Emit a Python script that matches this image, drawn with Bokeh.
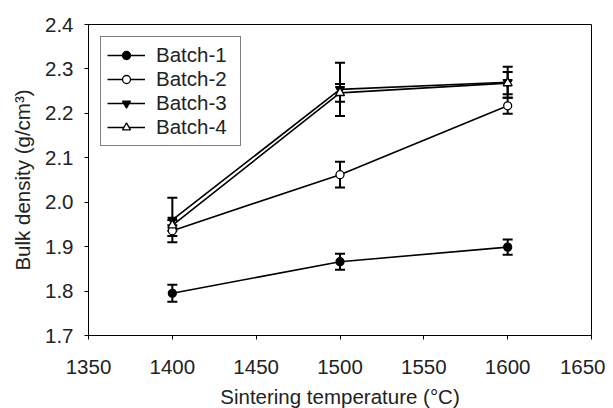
from bokeh.plotting import figure
from bokeh.models import ColumnDataSource, Whisker, FixedTicker, Legend, LegendItem, Range1d, CustomJSTickFormatter
from bokeh.embed import file_html
from bokeh.resources import INLINE

temps = [1400, 1500, 1600]
batch1 = [1.795, 1.866, 1.899]
batch1_err = [0.019, 0.018, 0.017]
batch2 = [1.936, 2.062, 2.217]
batch2_err = [0.012, 0.029, 0.018]
batch3 = [1.960, 2.254, 2.270]
batch3_err = [0.050, 0.060, 0.035]
batch4 = [1.948, 2.246, 2.268]
batch4_err = [0.012, 0.020, 0.025]
x_ticks = [1350, 1400, 1450, 1500, 1550, 1600, 1650]
y_ticks = [1.7, 1.8, 1.9, 2.0, 2.1, 2.2, 2.3, 2.4]

FONT = "Liberation Sans"

p = figure(width=605, height=415, output_backend="svg", toolbar_location=None,
           x_range=Range1d(1350, 1650), y_range=Range1d(1.7, 2.4),
           min_border_left=88, min_border_right=14, min_border_top=24, min_border_bottom=80)
p.grid.visible = False
p.outline_line_color = "black"
p.outline_line_width = 1
p.background_fill_color = "white"
p.border_fill_color = "white"

for ax in (p.xaxis[0], p.yaxis[0]):
    ax.major_tick_in = 0
    ax.major_tick_out = 4
    ax.minor_tick_line_color = None
    ax.axis_line_color = "black"
    ax.major_tick_line_color = "black"
    ax.major_label_text_font = FONT
    ax.major_label_text_font_size = "20.5px"
    ax.major_label_text_color = "#222222"
    ax.axis_label_text_font = FONT
    ax.axis_label_text_font_size = "20.5px"
    ax.axis_label_text_font_style = "normal"
    ax.axis_label_text_color = "#222222"

p.xaxis.ticker = FixedTicker(ticks=x_ticks)
p.yaxis.ticker = FixedTicker(ticks=y_ticks)
p.yaxis.formatter = CustomJSTickFormatter(code="return tick.toFixed(1);")
p.xaxis.axis_label = "Sintering temperature (°C)"
p.yaxis.axis_label = "Bulk density (g/cm³)"
p.xaxis.major_label_standoff = 20
p.yaxis.major_label_standoff = 11
p.xaxis.axis_label_standoff = 8
p.yaxis.axis_label_standoff = 8

series = [
    ("Batch-1", batch1, batch1_err, "circle", "black"),
    ("Batch-2", batch2, batch2_err, "circle", "white"),
    ("Batch-3", batch3, batch3_err, "inverted_triangle", "black"),
    ("Batch-4", batch4, batch4_err, "triangle", "white"),
]

items = []
for name, vals, errs, marker, fill in series:
    src = ColumnDataSource(dict(x=temps, y=vals,
                                lo=[v - e for v, e in zip(vals, errs)],
                                hi=[v + e for v, e in zip(vals, errs)]))
    w = Whisker(source=src, base="x", lower="lo", upper="hi",
                line_color="black", line_width=2)
    w.upper_head.size = 10
    w.lower_head.size = 10
    w.upper_head.line_width = 2
    w.lower_head.line_width = 2
    p.add_layout(w)
    l = p.line("x", "y", source=src, line_color="black", line_width=1.6)
    s = p.scatter("x", "y", source=src, marker=marker, size=8 if marker == "circle" else 9,
                  fill_color=fill, line_color="black", line_width=1.3)
    items.append(LegendItem(label=name, renderers=[l, s]))

legend = Legend(items=items, location="top_left")
legend.margin = 12
legend.padding = 6
legend.spacing = 0
legend.glyph_width = 38
legend.glyph_height = 20
legend.label_standoff = 11
legend.label_width = 78
legend.label_text_font = FONT
legend.label_text_font_size = "20.5px"
legend.label_text_color = "#222222"
legend.border_line_color = "black"
legend.border_line_width = 1
legend.background_fill_alpha = 1
p.add_layout(legend, "center")

open("out.html", "w").write(file_html(p, INLINE))
